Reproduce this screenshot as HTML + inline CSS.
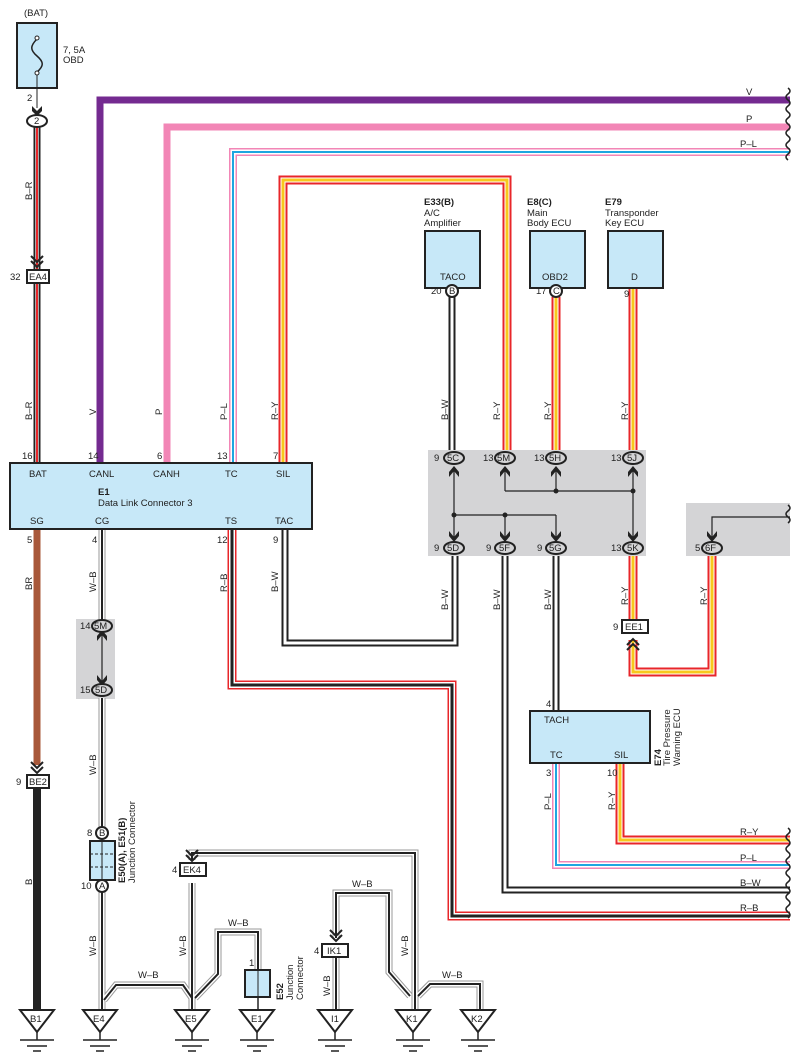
<!DOCTYPE html>
<html><head><meta charset="utf-8"><style>
html,body{margin:0;padding:0;background:#fff}
svg{display:block}
text{font-family:"Liberation Sans",sans-serif;font-size:9.5px;fill:#222}
.b{font-weight:bold}
polyline{fill:none;stroke-linejoin:miter}
</style></head><body>
<svg width="802" height="1063" viewBox="0 0 802 1063" xmlns="http://www.w3.org/2000/svg">
<rect x="428" y="450" width="218" height="106" fill="#d4d4d6"/>
<rect x="686" y="503" width="104" height="53" fill="#d4d4d6"/>
<rect x="76" y="619" width="39" height="80" fill="#d4d4d6"/>

<text x="24" y="16">(BAT)</text>
<rect x="17" y="23" width="40" height="65" fill="#c7e8f8" stroke="#222" stroke-width="2"/>
<path d="M37,39 C30,46 30,50 37,56 C44,62 44,66 37,72" fill="none" stroke="#222" stroke-width="1.5"/>
<circle cx="37" cy="38" r="2" fill="#fff" stroke="#222"/><circle cx="37" cy="73" r="2" fill="#fff" stroke="#222"/>
<text x="63" y="53">7, 5A</text><text x="63" y="63">OBD</text>
<line x1="37" y1="75" x2="37" y2="108" stroke="#222"/>
<text x="27" y="101">2</text>
<path d="M32,106 L37,111 L42,106 L42,111 L37,116 L32,111Z" fill="#222"/>

<polyline points="37,127 37,463" stroke="#222" stroke-width="7"/>
<polyline points="37,127 37,463" stroke="#aaa" stroke-width="4"/>
<polyline points="37,127 37,463" stroke="#e8262a" stroke-width="2"/>
<ellipse cx="37" cy="121" rx="10" ry="6" fill="#fff" stroke="#222" stroke-width="2"/>
<text x="34" y="124">2</text>
<rect x="27" y="270" width="22" height="13" fill="#fff" stroke="#222" stroke-width="2"/>
<text x="29" y="280">EA4</text><text x="10" y="280">32</text>
<path d="M31,256 L37,262 L43,256 M31,261 L37,267 L43,261" fill="none" stroke="#222" stroke-width="2"/>

<polyline points="100,463 100,100 790,100" stroke="#742a90" stroke-width="7"/>
<polyline points="167,463 167,127 790,127" stroke="#f286b6" stroke-width="7"/>
<polyline points="233,463 233,152 790,152" stroke="#f286b6" stroke-width="8"/>
<polyline points="233,463 233,152 790,152" stroke="#fff" stroke-width="5"/>
<polyline points="233,463 233,152 790,152" stroke="#1ea6e0" stroke-width="2"/>
<g stroke-width="9">
<polyline points="283,463 283,180 507,180 507,450" stroke="#e8262a"/>
<polyline points="556,297 556,450" stroke="#e8262a"/>
<polyline points="633,288 633,450" stroke="#e8262a"/>
<polyline points="633,556 633,620" stroke="#e8262a"/>
<polyline points="633,640 633,672 712,672 712,556" stroke="#e8262a"/>
<polyline points="620,763 620,840 790,840" stroke="#e8262a"/>
</g>
<g stroke-width="5">
<polyline points="283,463 283,180 507,180 507,450" stroke="#fff"/>
<polyline points="556,297 556,450" stroke="#fff"/>
<polyline points="633,288 633,450" stroke="#fff"/>
<polyline points="633,556 633,620" stroke="#fff"/>
<polyline points="633,640 633,672 712,672 712,556" stroke="#fff"/>
<polyline points="620,763 620,840 790,840" stroke="#fff"/>
</g>
<g stroke-width="3">
<polyline points="283,463 283,180 507,180 507,450" stroke="#f8c81c"/>
<polyline points="556,297 556,450" stroke="#f8c81c"/>
<polyline points="633,288 633,450" stroke="#f8c81c"/>
<polyline points="633,556 633,620" stroke="#f8c81c"/>
<polyline points="633,640 633,672 712,672 712,556" stroke="#f8c81c"/>
<polyline points="620,763 620,840 790,840" stroke="#f8c81c"/>
</g>
<polyline points="556,763 556,865 790,865" stroke="#f286b6" stroke-width="8"/>
<polyline points="556,763 556,865 790,865" stroke="#fff" stroke-width="5"/>
<polyline points="556,763 556,865 790,865" stroke="#1ea6e0" stroke-width="2"/>
<polyline points="232,529 232,685 452,685 452,916 790,916" stroke="#e8262a" stroke-width="9"/>
<polyline points="232,529 232,685 452,685 452,916 790,916" stroke="#fff" stroke-width="6"/>
<polyline points="232,529 232,685 452,685 452,916 790,916" stroke="#222" stroke-width="3"/>
<g stroke="#222" stroke-width="7">
<polyline points="285,529 285,643 455,643 455,556"/>
<polyline points="452,297 452,450"/>
<polyline points="505,556 505,890 790,890"/>
<polyline points="556,556 556,711"/>
</g>
<g stroke="#fff" stroke-width="3">
<polyline points="285,529 285,643 455,643 455,556"/>
<polyline points="452,297 452,450"/>
<polyline points="505,556 505,890 790,890"/>
<polyline points="556,556 556,711"/>
</g>
<polyline points="37,529 37,765" stroke="#a8583a" stroke-width="7"/>
<polyline points="37,788 37,1010" stroke="#222" stroke-width="8"/>
<g stroke="#999" stroke-width="7">
<polyline points="102,529 102,620"/><polyline points="102,698 102,832"/><polyline points="102,892 102,1012"/>
<polyline points="104,1000 116,985 183,985 192,998"/>
<polyline points="192,883 192,1012"/>
<polyline points="195,998 218,974 218,932 258,932 258,970"/>
<polyline points="415,1012 415,853 192,853 192,860"/>
<polyline points="336,957 336,1012"/>
<polyline points="336,938 336,893 389,893 389,972 410,996"/>
<polyline points="418,996 430,984 480,984 480,1012"/>
</g>
<g stroke="#fff" stroke-width="5">
<polyline points="102,529 102,620"/><polyline points="102,698 102,832"/><polyline points="102,892 102,1012"/>
<polyline points="104,1000 116,985 183,985 192,998"/>
<polyline points="192,883 192,1012"/>
<polyline points="195,998 218,974 218,932 258,932 258,970"/>
<polyline points="415,1012 415,853 192,853 192,860"/>
<polyline points="336,957 336,1012"/>
<polyline points="336,938 336,893 389,893 389,972 410,996"/>
<polyline points="418,996 430,984 480,984 480,1012"/>
</g>
<g stroke="#222" stroke-width="2">
<polyline points="102,529 102,620"/><polyline points="102,698 102,832"/><polyline points="102,892 102,1012"/>
<polyline points="104,1000 116,985 183,985 192,998"/>
<polyline points="192,883 192,1012"/>
<polyline points="195,998 218,974 218,932 258,932 258,970"/>
<polyline points="415,1012 415,853 192,853 192,860"/>
<polyline points="336,957 336,1012"/>
<polyline points="336,938 336,893 389,893 389,972 410,996"/>
<polyline points="418,996 430,984 480,984 480,1012"/>
</g>
<line x1="258" y1="997" x2="258" y2="1012" stroke="#222" stroke-width="1.5"/>

<g fill="none" stroke="#222" stroke-width="1.5">
<path d="M788,88 q4,3 0,6 q-4,3 0,6 q4,3 0,6 q-4,3 0,6 q4,3 0,6 q-4,3 0,6 q4,3 0,6 q-4,3 0,6 q4,3 0,6 q-4,3 0,6 q4,3 0,6 q-4,3 0,6"/>
<path d="M788,505 q4,3 0,6 q-4,3 0,6 q4,3 0,6"/>
<path d="M788,828 q4,3 0,6 q-4,3 0,6 q4,3 0,6 q-4,3 0,6 q4,3 0,6 q-4,3 0,6 q4,3 0,6 q-4,3 0,6 q4,3 0,6 q-4,3 0,6 q4,3 0,6 q-4,3 0,6 q4,3 0,6 q-4,3 0,6 q4,3 0,6"/>
</g>
<text x="746" y="95">V</text><text x="746" y="122">P</text><text x="740" y="147">P–L</text>
<text x="740" y="835">R–Y</text><text x="740" y="861">P–L</text><text x="740" y="886">B–W</text><text x="740" y="911">R–B</text>

<rect x="10" y="463" width="302" height="66" fill="#c7e8f8" stroke="#222" stroke-width="2"/>
<text x="29" y="477">BAT</text><text x="89" y="477">CANL</text><text x="153" y="477">CANH</text><text x="225" y="477">TC</text><text x="276" y="477">SIL</text>
<text x="98" y="495" class="b">E1</text><text x="98" y="506">Data Link Connector 3</text>
<text x="30" y="524">SG</text><text x="95" y="524">CG</text><text x="225" y="524">TS</text><text x="275" y="524">TAC</text>
<text x="22" y="459">16</text><text x="88" y="459">14</text><text x="157" y="459">6</text><text x="217" y="459">13</text><text x="273" y="459">7</text>
<text x="27" y="543">5</text><text x="92" y="543">4</text><text x="217" y="543">12</text><text x="273" y="543">9</text>

<g>
<text transform="translate(32,200) rotate(-90)">B–R</text>
<text transform="translate(32,420) rotate(-90)">B–R</text>
<text transform="translate(96,415) rotate(-90)">V</text>
<text transform="translate(162,415) rotate(-90)">P</text>
<text transform="translate(227,420) rotate(-90)">P–L</text>
<text transform="translate(278,420) rotate(-90)">R–Y</text>
<text transform="translate(448,420) rotate(-90)">B–W</text>
<text transform="translate(500,420) rotate(-90)">R–Y</text>
<text transform="translate(551,420) rotate(-90)">R–Y</text>
<text transform="translate(628,420) rotate(-90)">R–Y</text>
<text transform="translate(32,590) rotate(-90)">BR</text>
<text transform="translate(96,592) rotate(-90)">W–B</text>
<text transform="translate(227,592) rotate(-90)">R–B</text>
<text transform="translate(278,592) rotate(-90)">B–W</text>
<text transform="translate(448,610) rotate(-90)">B–W</text>
<text transform="translate(500,610) rotate(-90)">B–W</text>
<text transform="translate(551,610) rotate(-90)">B–W</text>
<text transform="translate(628,605) rotate(-90)">R–Y</text>
<text transform="translate(707,605) rotate(-90)">R–Y</text>
<text transform="translate(551,810) rotate(-90)">P–L</text>
<text transform="translate(615,810) rotate(-90)">R–Y</text>
<text transform="translate(96,775) rotate(-90)">W–B</text>
<text transform="translate(32,885) rotate(-90)">B</text>
<text transform="translate(96,956) rotate(-90)">W–B</text>
<text transform="translate(186,956) rotate(-90)">W–B</text>
<text transform="translate(330,996) rotate(-90)">W–B</text>
<text transform="translate(408,956) rotate(-90)">W–B</text>
</g>
<text x="138" y="978">W–B</text><text x="228" y="926">W–B</text><text x="352" y="887">W–B</text><text x="442" y="978">W–B</text>

<text x="424" y="205" class="b">E33(B)</text><text x="424" y="216">A/C</text><text x="424" y="226">Amplifier</text>
<rect x="425" y="231" width="55" height="57" fill="#c7e8f8" stroke="#222" stroke-width="2"/>
<text x="440" y="280">TACO</text>
<text x="431" y="294">20</text><circle cx="452" cy="291" r="6" fill="#fff" stroke="#222" stroke-width="2"/><text x="449" y="294">B</text>
<text x="527" y="205" class="b">E8(C)</text><text x="527" y="216">Main</text><text x="527" y="226">Body ECU</text>
<rect x="530" y="231" width="55" height="57" fill="#c7e8f8" stroke="#222" stroke-width="2"/>
<text x="542" y="280">OBD2</text>
<text x="536" y="294">17</text><circle cx="556" cy="291" r="6" fill="#fff" stroke="#222" stroke-width="2"/><text x="553" y="294">C</text>
<text x="605" y="205" class="b">E79</text><text x="605" y="216">Transponder</text><text x="605" y="226">Key ECU</text>
<rect x="608" y="231" width="55" height="57" fill="#c7e8f8" stroke="#222" stroke-width="2"/>
<text x="631" y="280">D</text><text x="624" y="297">9</text>

<g fill="none" stroke="#222" stroke-width="1.2">
<line x1="454" y1="467" x2="454" y2="540"/>
<line x1="454" y1="515" x2="556" y2="515"/><line x1="505" y1="515" x2="505" y2="540"/><line x1="556" y1="515" x2="556" y2="540"/>
<line x1="505" y1="467" x2="505" y2="491"/><line x1="505" y1="491" x2="633" y2="491"/>
<line x1="556" y1="467" x2="556" y2="491"/><line x1="633" y1="467" x2="633" y2="540"/>
<polyline points="790,517 712,517 712,540"/>
<line x1="102" y1="632" x2="102" y2="684"/>
</g>
<g fill="#222">
<circle cx="454" cy="515" r="2.5"/><circle cx="505" cy="515" r="2.5"/><circle cx="556" cy="491" r="2.5"/><circle cx="633" cy="491" r="2.5"/>
<path d="M449,477 L454,471 L459,477 L459,472 L454,466 L449,472Z"/>
<path d="M500,477 L505,471 L510,477 L510,472 L505,466 L500,472Z"/>
<path d="M551,477 L556,471 L561,477 L561,472 L556,466 L551,472Z"/>
<path d="M628,477 L633,471 L638,477 L638,472 L633,466 L628,472Z"/>
<path d="M97,641 L102,635 L107,641 L107,636 L102,630 L97,636Z"/>
<path d="M449,531 L454,537 L459,531 L459,536 L454,542 L449,536Z"/>
<path d="M500,531 L505,537 L510,531 L510,536 L505,542 L500,536Z"/>
<path d="M551,531 L556,537 L561,531 L561,536 L556,542 L551,536Z"/>
<path d="M628,531 L633,537 L638,531 L638,536 L633,542 L628,536Z"/>
<path d="M707,531 L712,537 L717,531 L717,536 L712,542 L707,536Z"/>
<path d="M97,675 L102,681 L107,675 L107,680 L102,686 L97,680Z"/>
</g>
<g fill="#d4d4d6" stroke="#222" stroke-width="2">
<ellipse cx="454" cy="458" rx="10" ry="6"/><ellipse cx="505" cy="458" rx="10" ry="6"/><ellipse cx="556" cy="458" rx="10" ry="6"/><ellipse cx="633" cy="458" rx="10" ry="6"/>
<ellipse cx="454" cy="548" rx="10" ry="6"/><ellipse cx="505" cy="548" rx="10" ry="6"/><ellipse cx="556" cy="548" rx="10" ry="6"/><ellipse cx="633" cy="548" rx="10" ry="6"/>
<ellipse cx="712" cy="548" rx="10" ry="6"/><ellipse cx="102" cy="626" rx="10" ry="6"/><ellipse cx="102" cy="690" rx="10" ry="6"/>
</g>
<g style="font-size:9px">
<text x="447" y="461">5C</text><text x="497" y="461">5M</text><text x="549" y="461">5H</text><text x="627" y="461">5J</text>
<text x="447" y="551">5D</text><text x="499" y="551">5F</text><text x="549" y="551">5G</text><text x="627" y="551">5K</text>
<text x="705" y="551">6F</text><text x="94" y="629">5M</text><text x="95" y="693">5D</text>
<text x="434" y="461">9</text><text x="483" y="461">13</text><text x="534" y="461">13</text><text x="611" y="461">13</text>
<text x="434" y="551">9</text><text x="486" y="551">9</text><text x="537" y="551">9</text><text x="611" y="551">13</text>
<text x="695" y="551">5</text><text x="80" y="629">14</text><text x="80" y="693">15</text>
</g>

<rect x="622" y="620" width="26" height="13" fill="#fff" stroke="#222" stroke-width="2"/>
<text x="625" y="630">EE1</text><text x="613" y="630">9</text>
<path d="M627,645 L633,639 L639,645 M627,650 L633,644 L639,650" fill="none" stroke="#222" stroke-width="2"/>

<path d="M31,762 L37,768 L43,762 M31,767 L37,773 L43,767" fill="none" stroke="#222" stroke-width="2"/>
<rect x="27" y="775" width="22" height="13" fill="#fff" stroke="#222" stroke-width="2"/>
<text x="29" y="785">BE2</text><text x="16" y="785">9</text>

<rect x="530" y="711" width="120" height="52" fill="#c7e8f8" stroke="#222" stroke-width="2"/>
<text x="544" y="723">TACH</text><text x="550" y="758">TC</text><text x="614" y="758">SIL</text>
<text x="546" y="707">4</text><text x="546" y="776">3</text><text x="607" y="776">10</text>
<text transform="translate(661,766) rotate(-90)" class="b">E74</text>
<text transform="translate(670,766) rotate(-90)">Tire Pressure</text>
<text transform="translate(680,766) rotate(-90)">Warning ECU</text>

<rect x="90" y="841" width="25" height="39" fill="#c7e8f8" stroke="#222" stroke-width="2"/>
<line x1="102" y1="841" x2="102" y2="880" stroke="#222"/>
<line x1="90" y1="854" x2="115" y2="854" stroke="#222" stroke-dasharray="3,2"/>
<line x1="90" y1="867" x2="115" y2="867" stroke="#222" stroke-dasharray="3,2"/>
<circle cx="102" cy="833" r="6" fill="#fff" stroke="#222" stroke-width="2"/><text x="99" y="836">B</text>
<circle cx="102" cy="886" r="6" fill="#fff" stroke="#222" stroke-width="2"/><text x="99" y="889">A</text>
<text x="87" y="836">8</text><text x="81" y="889">10</text>
<text transform="translate(125,883) rotate(-90)" class="b">E50(A), E51(B)</text>
<text transform="translate(135,883) rotate(-90)">Junction Connector</text>

<path d="M186,850 L192,856 L198,850 M186,855 L192,861 L198,855" fill="none" stroke="#222" stroke-width="2"/>
<rect x="180" y="863" width="26" height="13" fill="#fff" stroke="#222" stroke-width="2"/>
<text x="183" y="873">EK4</text><text x="172" y="873">4</text>
<path d="M330,930 L336,936 L342,930 M330,935 L336,941 L342,935" fill="none" stroke="#222" stroke-width="2"/>
<rect x="322" y="944" width="26" height="13" fill="#fff" stroke="#222" stroke-width="2"/>
<text x="327" y="954">IK1</text><text x="314" y="954">4</text>

<rect x="245" y="970" width="25" height="27" fill="#c7e8f8" stroke="#222" stroke-width="2"/>
<line x1="258" y1="970" x2="258" y2="997" stroke="#222"/>
<text x="249" y="966">1</text>
<text transform="translate(283,1000) rotate(-90)" class="b">E52</text>
<text transform="translate(293,1000) rotate(-90)">Junction</text>
<text transform="translate(303,1000) rotate(-90)">Connector</text>

<g fill="#fff" stroke="#222" stroke-width="2">
<path d="M20,1010 L54,1010 L37,1032Z"/><path d="M83,1010 L117,1010 L100,1032Z"/><path d="M175,1010 L209,1010 L192,1032Z"/>
<path d="M240,1010 L274,1010 L257,1032Z"/><path d="M318,1010 L352,1010 L335,1032Z"/><path d="M396,1010 L430,1010 L413,1032Z"/>
<path d="M461,1010 L495,1010 L478,1032Z"/>
</g>
<g stroke="#222" stroke-width="1.5" fill="none">
<path d="M37,1032v8M20,1040h34M27,1046h20M33,1051h8"/>
<path d="M100,1032v8M83,1040h34M90,1046h20M96,1051h8"/>
<path d="M192,1032v8M175,1040h34M182,1046h20M188,1051h8"/>
<path d="M257,1032v8M240,1040h34M247,1046h20M253,1051h8"/>
<path d="M335,1032v8M318,1040h34M325,1046h20M331,1051h8"/>
<path d="M413,1032v8M396,1040h34M403,1046h20M409,1051h8"/>
<path d="M478,1032v8M461,1040h34M468,1046h20M474,1051h8"/>
</g>
<text x="30" y="1022">B1</text><text x="93" y="1022">E4</text><text x="185" y="1022">E5</text><text x="251" y="1022">E1</text>
<text x="331" y="1022">I1</text><text x="406" y="1022">K1</text><text x="471" y="1022">K2</text>
</svg>
</body></html>
